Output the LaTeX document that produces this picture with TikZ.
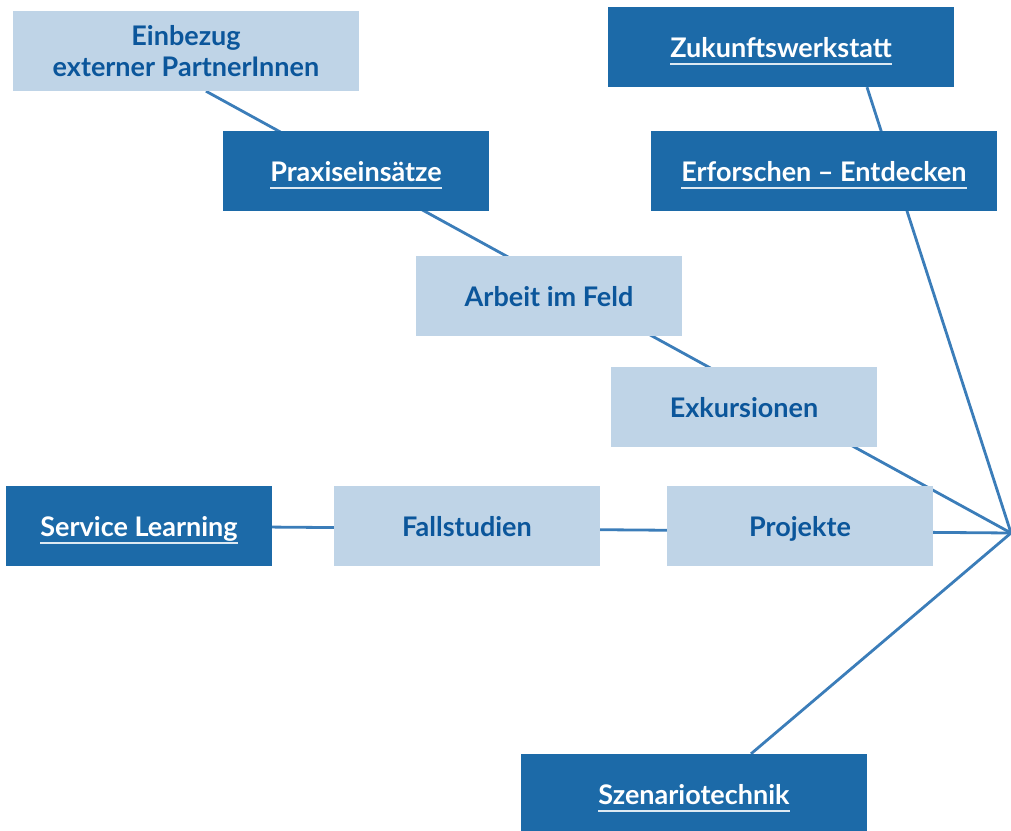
\documentclass[tikz,border=0pt]{standalone}
\usepackage{fontspec}
\setmainfont{Lato}
\usepackage{xcolor}
\definecolor{cobalt}{HTML}{1C6AA8}
\definecolor{powder}{HTML}{BFD4E7}
\definecolor{ink}{HTML}{0B569B}
\definecolor{wire}{HTML}{3B7DB9}
\usetikzlibrary{backgrounds}
\newcommand{\linked}[1]{\setbox0\hbox{#1}\rlap{\smash{\lower8pt\hbox{\color{white!85!cobalt}\rule{\wd0}{1.8pt}}}}\box0}

\begin{document}
\begin{tikzpicture}[x=1pt, y=-1pt,
    box/.style={minimum height=80pt, inner sep=0pt,
      font=\fontsize{27}{31}\selectfont\bfseries},
    level/.style={text height=20pt, text depth=0pt},
    dark/.style={box, level, fill=cobalt, text=white},
    pale/.style={box, fill=powder, text=ink},
    link/.style={draw=wire, line width=2.8pt}]
  % Frame
  \useasboundingbox (0, 0) rectangle (1011, 830);

  \node[pale, minimum width=346pt, align=center] (einbezug) at(186, 51) {Einbezug\\externer PartnerInnen};
  \node[dark, minimum width=346pt] (zukunft) at(781, 47) {\linked{Zukunftswerkstatt}};
  \node[dark, minimum width=266pt] (praxis) at(356, 171) {\linked{Praxiseinsätze}};
  \node[dark, minimum width=346pt] (erforschen) at(824, 171) {\linked{Erforschen – Entdecken}};
  \node[pale, level, minimum width=266pt] (arbeit) at(549, 296) {Arbeit im Feld};
  \node[pale, level, minimum width=266pt] (exkursionen) at(744, 407) {Exkursionen};
  \node[dark, minimum width=266pt] (service) at(139, 526) {\linked{Service Learning}};
  \node[pale, level, minimum width=266pt] (fallstudien) at(467, 526) {Fallstudien};
  \node[pale, level, minimum width=266pt] (projekte) at(800, 526) {Projekte};
  \node[dark, minimum width=346pt] (szenario) at(694, 794) {\linked{Szenariotechnik}};

  % Connectors, behind the boxes
  \coordinate (hub) at(1011, 533);
  \begin{scope}[on background layer]
    \draw[link] (hub) -- ([xshift=20pt]einbezug.south);
    \draw[link] (hub) -- ([xshift=86pt]zukunft.south);
    \draw[link] (hub) -- (service.center);
    \draw[link] (hub) -- ([xshift=57pt]szenario.north);
  \end{scope}
\end{tikzpicture}
\end{document}
